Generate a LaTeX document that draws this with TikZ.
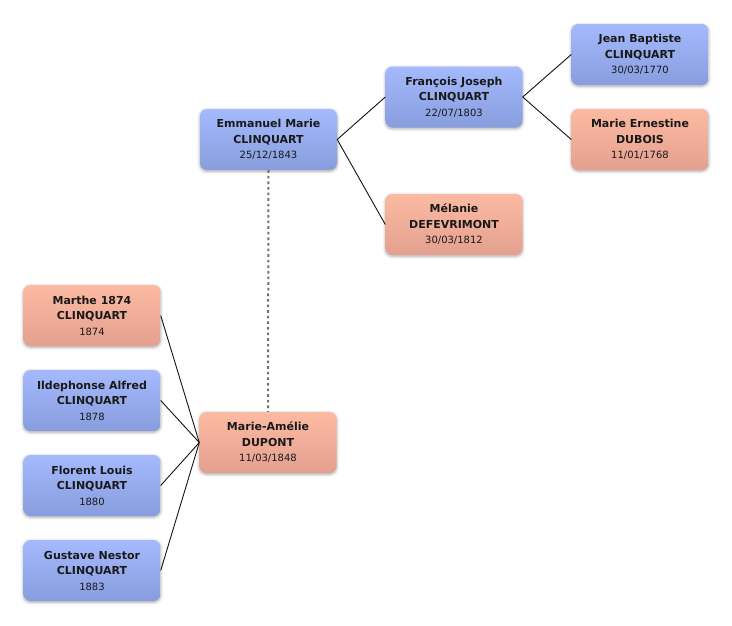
\documentclass[tikz,border=0pt]{standalone}
\usepackage{fontspec}
\setmainfont{DejaVu Sans}
\usepackage{xcolor}
\usepackage{tikz}
\usetikzlibrary{shadows,shadows.blur}
\definecolor{maletop}{RGB}{165,186,252}
\definecolor{malebot}{RGB}{135,157,222}
\definecolor{femaletop}{RGB}{252,186,163}
\definecolor{femalebot}{RGB}{228,160,143}
\definecolor{treeline}{RGB}{20,20,20}
\definecolor{unionline}{RGB}{112,112,112}
\begin{document}
\begin{tikzpicture}[x=1pt,y=-1pt,
	person/.style={rounded corners=7pt,minimum width=137pt,minimum height=61pt,inner sep=0pt,align=center,
		font=\fontsize{11}{15.5}\selectfont\bfseries,text=black!90,
		blur shadow={shadow xshift=0pt,shadow yshift=-1.2pt,shadow blur radius=3pt,shadow opacity=35,shadow blur steps=6}},
	male/.style={person,top color=maletop,bottom color=malebot},
	female/.style={person,top color=femaletop,bottom color=femalebot},
	link/.style={treeline,line width=0.9pt},
	union/.style={unionline,line width=2pt,dash pattern=on 2.6pt off 3pt}]
	\useasboundingbox (0,0) rectangle (732,625);
	\node[male] (emmanuel) at (268.5,139.5) {Emmanuel Marie\\CLINQUART\\{\fontsize{10}{12}\selectfont\mdseries 25/12/1843}};
	\node[male] (francois) at (454,97) {François Joseph\\CLINQUART\\{\fontsize{10}{12}\selectfont\mdseries 22/07/1803}};
	\node[female] (melanie) at (454,224.5) {Mélanie\\DEFEVRIMONT\\{\fontsize{10}{12}\selectfont\mdseries 30/03/1812}};
	\node[male] (jean) at (640,54.5) {Jean Baptiste\\CLINQUART\\{\fontsize{10}{12}\selectfont\mdseries 30/03/1770}};
	\node[female] (ernestine) at (640,139.5) {Marie Ernestine\\DUBOIS\\{\fontsize{10}{12}\selectfont\mdseries 11/01/1768}};
	\node[female] (amelie) at (268,442.5) {Marie-Amélie\\DUPONT\\{\fontsize{10}{12}\selectfont\mdseries 11/03/1848}};
	\node[female] (marthe) at (92,315.5) {Marthe 1874\\CLINQUART\\{\fontsize{10}{12}\selectfont\mdseries 1874}};
	\node[male] (ildephonse) at (92,400.5) {Ildephonse Alfred\\CLINQUART\\{\fontsize{10}{12}\selectfont\mdseries 1878}};
	\node[male] (florent) at (92,485.5) {Florent Louis\\CLINQUART\\{\fontsize{10}{12}\selectfont\mdseries 1880}};
	\node[male] (gustave) at (92,570.5) {Gustave Nestor\\CLINQUART\\{\fontsize{10}{12}\selectfont\mdseries 1883}};
	\draw[link] (emmanuel.east) -- (francois.west);
	\draw[link] (emmanuel.east) -- (melanie.west);
	\draw[link] (francois.east) -- (jean.west);
	\draw[link] (francois.east) -- (ernestine.west);
	\draw[link] (amelie.west) -- (marthe.east);
	\draw[link] (amelie.west) -- (ildephonse.east);
	\draw[link] (amelie.west) -- (florent.east);
	\draw[link] (amelie.west) -- (gustave.east);
	\draw[union] (emmanuel.south) -- (amelie.north);
\end{tikzpicture}
\end{document}
